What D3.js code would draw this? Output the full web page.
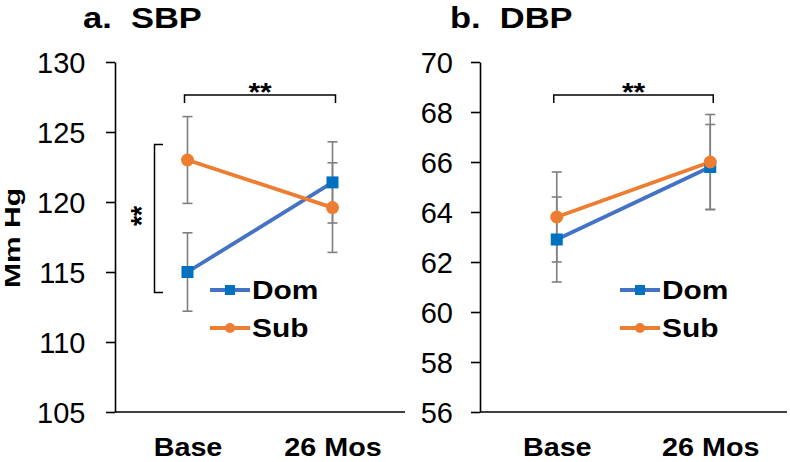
<!DOCTYPE html>
<html><head><meta charset="utf-8">
<script src="https://cdn.jsdelivr.net/npm/d3@7"></script>
<style>body{margin:0;background:#fff}svg{display:block}text{font-family:"Liberation Sans",Arial,sans-serif}</style>
</head><body><svg id="c" width="790" height="462"></svg>
<script>
const categories = ["Base", "26 Mos"];
const seriesNames = ["Dom", "Sub"];
// Panel a: SBP
const sbpDom = [115.0, 121.4];
const sbpDomErr = [2.8, 2.9];
const sbpSub = [123.0, 119.6];
const sbpSubErr = [3.1, 3.2];
const sbpTicks = [105, 110, 115, 120, 125, 130];
// Panel b: DBP
const dbpDom = [62.9, 65.8];
const dbpDomErr = [1.7, 1.7];
const dbpSub = [63.8, 66.0];
const dbpSubErr = [1.8, 1.9];
const dbpTicks = [56, 58, 60, 62, 64, 66, 68, 70];

const SX = 1.15;
const BLUE_LINE = "#4472C4", BLUE_MARK = "#0070C0", ORANGE = "#ED7D31", GRAY = "#7F7F7F";
const svg = d3.select("#c");

function stext(g, x, y, str, opts) {
  const t = g.append("text").attr("transform", `translate(${x},${y}) scale(${SX},1)`)
    .text(str).attr("font-size", opts.size).attr("font-weight", opts.bold ? "bold" : "normal")
    .attr("text-anchor", opts.anchor || "start").attr("fill", "#000");
  return t;
}

function panel(cfg) {
  const g = svg.append("g");
  const x = d3.scalePoint().domain(categories).range([cfg.x0, cfg.x1]).padding(0.5);
  const y = d3.scaleLinear().domain([cfg.ticks[0], cfg.ticks[cfg.ticks.length-1]]).range([412, 62]);

  // y axis
  const ya = g.append("g").attr("transform", `translate(${cfg.x0},0)`)
    .call(d3.axisLeft(y).tickValues(cfg.ticks).tickSize(9).tickSizeOuter(0).tickPadding(0));
  ya.selectAll("path,line").attr("stroke", "#000").attr("stroke-width", 1.6);
  ya.selectAll("text").attr("font-size", 29).attr("fill", "#000")
    .attr("font-family", '"Liberation Sans",Arial,sans-serif')
    .attr("x", -cfg.labelGap).attr("dy", "0.36em");
  // x axis
  const xa = g.append("g").attr("transform", `translate(0,412)`)
    .call(d3.axisBottom(x).tickSize(0).tickSizeOuter(0).tickPadding(0));
  xa.select("path").attr("d", `M${cfg.x0},0H${cfg.x1}`).attr("stroke", "#000").attr("stroke-width", 1.6);
  xa.selectAll("text").attr("font-size", 25).attr("font-weight", "bold").attr("fill", "#000")
    .attr("font-family", '"Liberation Sans",Arial,sans-serif')
    .attr("y", null).attr("dy", null)
    .attr("transform", `translate(0,44) scale(${SX},1)`);

  // title
  stext(g, cfg.titleX, 28, cfg.title, {size: 30, bold: true});

  const series = [
    {v: cfg.dom, e: cfg.domErr, color: BLUE_LINE, mark: BLUE_MARK, shape: "sq"},
    {v: cfg.sub, e: cfg.subErr, color: ORANGE, mark: ORANGE, shape: "ci"}
  ];
  // error bars
  series.forEach(s => {
    categories.forEach((c, i) => {
      const cx = x(c), hi = y(s.v[i] + s.e[i]), lo = y(s.v[i] - s.e[i]);
      g.append("line").attr("x1", cx).attr("x2", cx).attr("y1", hi).attr("y2", lo).attr("stroke", GRAY).attr("stroke-width", 1.6);
      [hi, lo].forEach(yy => g.append("line").attr("x1", cx-5).attr("x2", cx+5).attr("y1", yy).attr("y2", yy).attr("stroke", GRAY).attr("stroke-width", 1.6));
    });
  });
  const line = d3.line().x((d, i) => x(categories[i])).y(d => y(d));
  series.forEach(s => {
    g.append("path").attr("d", line(s.v)).attr("fill", "none").attr("stroke", s.color).attr("stroke-width", 3.8);
  });
  series.forEach(s => {
    s.v.forEach((v, i) => {
      if (s.shape === "sq") g.append("rect").attr("x", x(categories[i])-6).attr("y", y(v)-6).attr("width", 12).attr("height", 12).attr("fill", s.mark);
      else g.append("circle").attr("cx", x(categories[i])).attr("cy", y(v)).attr("r", 6.5).attr("fill", s.mark);
    });
  });

  // top bracket
  const bx0 = x(categories[0]) - 3, bx1 = x(categories[1]) + 3;
  g.append("path").attr("d", `M${bx0},103V95H${bx1}V103`).attr("fill", "none").attr("stroke", "#000").attr("stroke-width", 1.5);
  stext(g, (bx0+bx1)/2, 101, "**", {size: 26, bold: true, anchor: "middle"});

  // legend
  series.forEach((s, k) => {
    const ly = 290 + k*38;
    g.append("line").attr("x1", cfg.legX).attr("x2", cfg.legX+40).attr("y1", ly).attr("y2", ly).attr("stroke", s.color).attr("stroke-width", 3.8);
    if (s.shape === "sq") g.append("rect").attr("x", cfg.legX+15).attr("y", ly-5).attr("width", 10).attr("height", 10).attr("fill", s.mark);
    else g.append("circle").attr("cx", cfg.legX+20).attr("cy", ly).attr("r", 5).attr("fill", s.mark);
    stext(g, cfg.legX+42, ly+9, seriesNames[k], {size: 26, bold: true});
  });
  return {g, x, y};
}

const pa = panel({x0: 115, x1: 405, ticks: sbpTicks, dom: sbpDom, domErr: sbpDomErr, sub: sbpSub, subErr: sbpSubErr,
  title: "a.\u00A0 SBP", titleX: 83, legX: 210, labelGap: 29.5});
const pb = panel({x0: 480, x1: 787, ticks: dbpTicks, dom: dbpDom, domErr: dbpDomErr, sub: dbpSub, subErr: dbpSubErr,
  title: "b.\u00A0 DBP", titleX: 450, legX: 620, labelGap: 27});

// y-axis label
svg.append("text").attr("transform", `translate(20,238) rotate(-90) scale(1,0.76)`)
  .attr("text-anchor", "middle").attr("font-size", 30).attr("font-weight", "bold").text("Mm Hg");

// side bracket in panel a (Base Dom vs Sub)
svg.append("path").attr("d", `M163,144.5H154.5V292.5H163`).attr("fill", "none").attr("stroke", "#000").attr("stroke-width", 1.5);
svg.append("text").attr("transform", `translate(151,216) rotate(-90) scale(1,${SX})`)
  .attr("text-anchor", "middle").attr("font-size", 26).attr("font-weight", "bold").text("**");
</script></body></html>
